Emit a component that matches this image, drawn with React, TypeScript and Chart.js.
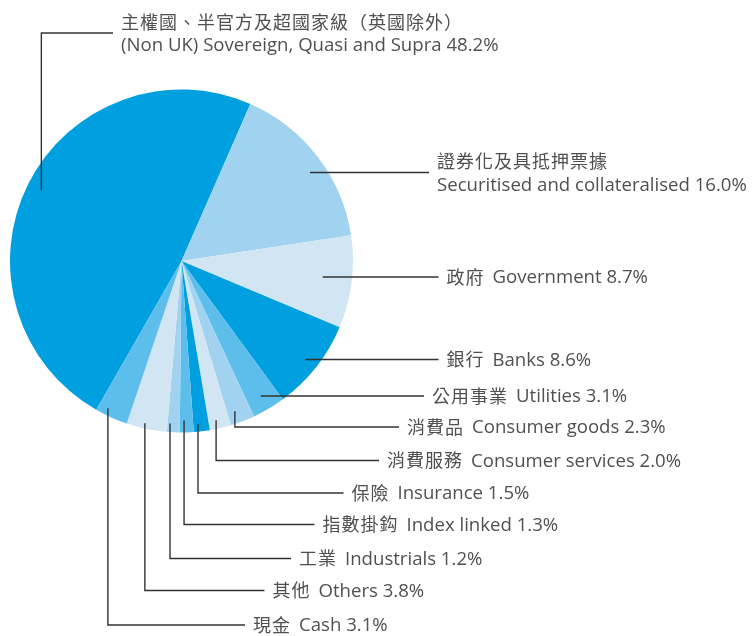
import React, { useEffect, useRef } from 'react';
import { Chart, registerables } from 'chart.js';

Chart.register(...registerables);

// ---- data ----
const categoriesZh = [
  '主權國、半官方及超國家級（英國除外）',
  '證券化及具抵押票據',
  '政府',
  '銀行',
  '公用事業',
  '消費品',
  '消費服務',
  '保險',
  '指數掛鈎',
  '工業',
  '其他',
  '現金',
];
const categoriesEn = [
  '(Non UK) Sovereign, Quasi and Supra',
  'Securitised and collateralised',
  'Government',
  'Banks',
  'Utilities',
  'Consumer goods',
  'Consumer services',
  'Insurance',
  'Index linked',
  'Industrials',
  'Others',
  'Cash',
];
const shares = [48.2, 16.0, 8.7, 8.6, 3.1, 2.3, 2.0, 1.5, 1.3, 1.2, 3.8, 3.1];

// ---- styles ----
const DARK = '#009FDF';
const MEDIUM = '#5DBEEB';
const LIGHT = '#A1D3F0';
const PALE = '#D2E5F2';
const sliceColors = [DARK, LIGHT, PALE, DARK, MEDIUM, LIGHT, PALE, DARK, MEDIUM, LIGHT, PALE, MEDIUM];

// label layout: text left x, leader line y, leader kind, anchor radius fraction,
// anchor position within slice (0..1), two-line label
const labelLayout = [
  { tx: 121, ly: 33, kind: 'elbow', frac: 0.915, pos: 0.5, two: true },
  { tx: 437, ly: 172.5, kind: 'straight', frac: 0.91, pos: 0.55, two: true },
  { tx: 446.5, ly: 277, kind: 'straight', frac: 0.83, pos: 0.5, two: false },
  { tx: 446.5, ly: 359.5, kind: 'straight', frac: 0.92, pos: 0.5, two: false },
  { tx: 432, ly: 396, kind: 'straight', frac: 0.91, pos: 0.51, two: false },
  { tx: 407, ly: 427, kind: 'elbow', frac: 0.93, pos: 0.66, two: false },
  { tx: 387, ly: 460.5, kind: 'elbow', frac: 0.95, pos: 0.62, two: false },
  { tx: 351.5, ly: 493, kind: 'elbow', frac: 0.955, pos: 0.69, two: false },
  { tx: 322.5, ly: 524.5, kind: 'elbow', frac: 0.93, pos: 0.68, two: false },
  { tx: 299, ly: 558.5, kind: 'elbow', frac: 0.95, pos: 0.8, two: false },
  { tx: 272.5, ly: 590.5, kind: 'elbow', frac: 0.97, pos: 0.57, two: false },
  { tx: 253, ly: 625, kind: 'elbow', frac: 0.96, pos: 0.71, two: false },
];

const LATIN_FONT = '"Open Sans", "Noto Sans", sans-serif';
const CJK_FONT = '"Noto Sans CJK TC", sans-serif';
const LATIN_SIZE = 18.6;
const CJK_SIZE = 18;
const TEXT_COLOR = '#505050';
const LINE_COLOR = '#333333';

const labelPlugin = {
  id: 'leaderLabels',
  afterDraw(chart: any) {
    const ctx = chart.ctx as CanvasRenderingContext2D;
    const meta = chart.getDatasetMeta(0);
    ctx.save();
    meta.data.forEach((arc: any, i: number) => {
      const p = arc.getProps(['x', 'y', 'startAngle', 'endAngle', 'outerRadius'], true);
      const lay = labelLayout[i];
      const ang = p.startAngle + (p.endAngle - p.startAngle) * lay.pos;
      const r = p.outerRadius * lay.frac;
      const ax = p.x + Math.cos(ang) * r;
      const ay = p.y + Math.sin(ang) * r;
      const endX = lay.tx - 8;
      ctx.strokeStyle = LINE_COLOR;
      ctx.lineWidth = 1.4;
      ctx.beginPath();
      if (lay.kind === 'elbow') {
        ctx.moveTo(ax, ay);
        ctx.lineTo(ax, lay.ly);
        ctx.lineTo(endX, lay.ly);
      } else {
        ctx.moveTo(ax, lay.ly);
        ctx.lineTo(endX, lay.ly);
      }
      ctx.stroke();

      const pct = shares[i].toFixed(1) + '%';
      const en = categoriesEn[i] + ' ' + pct;
      const zh = categoriesZh[i];
      ctx.fillStyle = TEXT_COLOR;
      ctx.textBaseline = 'middle';
      ctx.textAlign = 'left';
      if (lay.two) {
        ctx.font = `${CJK_SIZE}px ${CJK_FONT}`;
        (ctx as any).letterSpacing = '1px';
        ctx.fillText(zh, lay.tx, lay.ly - 11);
        (ctx as any).letterSpacing = '0px';
        ctx.font = `${LATIN_SIZE}px ${LATIN_FONT}`;
        ctx.fillText(en, lay.tx, lay.ly + 13);
      } else {
        ctx.font = `${CJK_SIZE}px ${CJK_FONT}`;
        (ctx as any).letterSpacing = '1px';
        ctx.fillText(zh, lay.tx, lay.ly);
        const w = ctx.measureText(zh).width;
        (ctx as any).letterSpacing = '0px';
        ctx.font = `${LATIN_SIZE}px ${LATIN_FONT}`;
        ctx.fillText(en, lay.tx + w + 8, lay.ly + 1);
      }
    });
    ctx.restore();
  },
};

export default function App() {
  const ref = useRef<HTMLCanvasElement | null>(null);
  useEffect(() => {
    document.body.style.margin = '0';
    const canvas = ref.current!;
    const chart = new Chart(canvas, {
      type: 'pie',
      data: {
        labels: categoriesEn,
        datasets: [
          {
            data: shares,
            backgroundColor: sliceColors,
            borderWidth: 0,
          },
        ],
      },
      options: {
        responsive: false,
        animation: false,
        rotation: -150.2,
        layout: { padding: { left: 10, right: 400, top: 89.5, bottom: 203.5 } },
        plugins: {
          legend: { display: false },
          tooltip: { enabled: false },
        },
      },
      plugins: [labelPlugin],
    });
    return () => chart.destroy();
  }, []);
  return (
    <div style={{ width: 753, height: 636, background: '#fff' }}>
      <canvas ref={ref} width={753} height={636} style={{ display: 'block' }} />
    </div>
  );
}
